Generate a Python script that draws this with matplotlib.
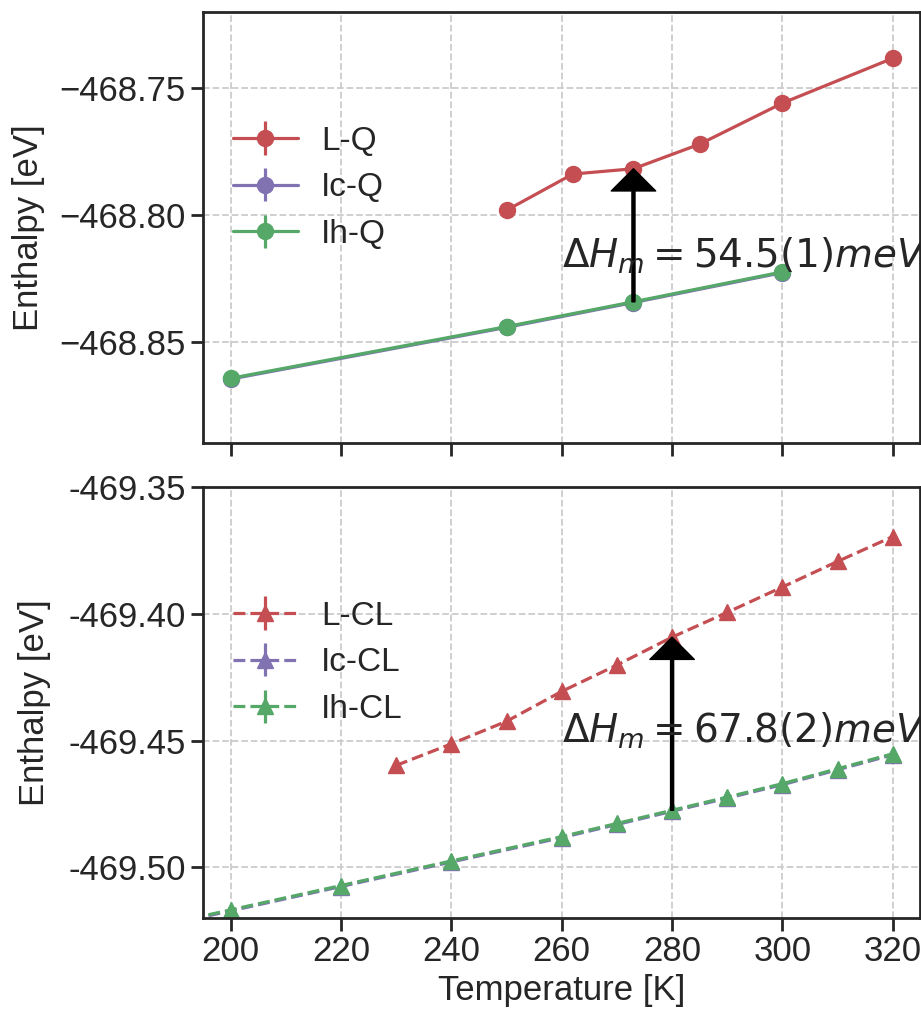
import numpy as np
import matplotlib.pyplot as plt
import seaborn as sns
from matplotlib.ticker import FormatStrFormatter, ScalarFormatter

sns.set_style('ticks', {'axes.grid': True, 'grid.linestyle': '--'})
plt.rcParams['font.family'] = ['Liberation Sans', 'DejaVu Sans']
plt.rcParams['mathtext.fontset'] = 'dejavusans'

RED, PURPLE, GREEN = '#C44E52', '#8172B2', '#55A868'

# --- Quantum (Q) ---
T_L_Q = [250, 262, 273, 285, 300, 320]
H_L_Q = [-468.7982, -468.7839, -468.7818, -468.7721, -468.7559, -468.7382]
T_I_Q = [200, 250, 273, 300]
H_Ic_Q = [-468.8648, -468.8444, -468.8346, -468.8228]
H_Ih_Q = [-468.8645, -468.8441, -468.8343, -468.8225]
err_Q = 0.0002

# --- Classical (CL) ---
T_L_CL = [230, 240, 250, 260, 270, 280, 290, 300, 310, 320]
H_L_CL = [-469.4598, -469.4513, -469.4424, -469.4306, -469.4202,
          -469.4092, -469.3994, -469.3894, -469.3793, -469.3695]
T_I_CL = [190, 200, 220, 240, 260, 270, 280, 290, 300, 310, 320]
H_Ih_CL = [-469.5216, -469.5168, -469.5072, -469.4975, -469.4879, -469.4827,
           -469.4775, -469.4723, -469.4670, -469.4611, -469.4552]
H_Ic_CL = [-469.5220, -469.5172, -469.5076, -469.4979, -469.4883, -469.4831,
           -469.4779, -469.4727, -469.4674, -469.4615, -469.4556]
err_CL = 0.0002

dH_Q = '54.5(1)'
dH_CL = '67.8(2)'
T_arrow_Q = 273
T_arrow_CL = 280

fig = plt.figure(figsize=(9.21, 10.09), dpi=100)
ax1 = fig.add_axes([0.2204, 0.561, 0.779, 0.427])
ax2 = fig.add_axes([0.2204, 0.0902, 0.779, 0.427])

lw, ms = 2.3, 11.5
ax1.errorbar(T_L_Q, H_L_Q, yerr=err_Q, color=RED, marker='o', ms=ms, lw=lw, label='L-Q')
ax1.errorbar(T_I_Q, H_Ic_Q, yerr=err_Q, color=PURPLE, marker='o', ms=ms, lw=lw, label='Ic-Q')
ax1.errorbar(T_I_Q, H_Ih_Q, yerr=err_Q, color=GREEN, marker='o', ms=ms, lw=lw, label='Ih-Q')

ax2.errorbar(T_L_CL, H_L_CL, yerr=err_CL, color=RED, marker='^', ms=ms, lw=lw, ls='--', label='L-CL')
ax2.errorbar(T_I_CL, H_Ic_CL, yerr=err_CL, color=PURPLE, marker='^', ms=ms, lw=lw, ls='--', label='Ic-CL')
ax2.errorbar(T_I_CL, H_Ih_CL, yerr=err_CL, color=GREEN, marker='^', ms=ms, lw=lw, ls='--', label='Ih-CL')

# стрелки с энтальпией плавления
arrow = dict(facecolor='black', edgecolor='black', width=2.2, headwidth=32, headlength=16, shrink=0)
i = T_L_Q.index(T_arrow_Q); j = T_I_Q.index(T_arrow_Q)
ax1.annotate('', xy=(T_arrow_Q, H_L_Q[i]), xytext=(T_arrow_Q, H_Ih_Q[j]), arrowprops=arrow)
ax1.text(260, -468.8208, r'$\Delta H_m = %s meV$' % dH_Q, fontsize=28, color='#262626')
i = T_L_CL.index(T_arrow_CL); j = T_I_CL.index(T_arrow_CL)
ax2.annotate('', xy=(T_arrow_CL, H_L_CL[i]), xytext=(T_arrow_CL, H_Ih_CL[j]), arrowprops=arrow)
ax2.text(260, -469.4507, r'$\Delta H_m = %s meV$' % dH_CL, fontsize=28, color='#262626')

for ax in (ax1, ax2):
    ax.set_xlim(195, 325)
    ax.set_xticks(range(200, 321, 20))
    ax.grid(True, ls='--', color='#cccccc', lw=1.3)
    for s in ax.spines.values():
        s.set_linewidth(2)
        s.set_color('#262626')
    ax.tick_params(axis='both', length=9, width=2, color='#262626', labelsize=25, labelcolor='#262626')
    ax.legend(loc='upper left', bbox_to_anchor=(0.0, 0.806), fontsize=24, frameon=False,
              handlelength=1.95, handletextpad=0.7, labelspacing=0.47)

ax1.set_ylabel('Enthalpy [eV]', fontsize=25, color='#262626', labelpad=10)
ax1.set_ylim(-468.890, -468.720)
ax1.set_yticks([-468.75, -468.80, -468.85])
ax1.yaxis.set_major_formatter(ScalarFormatter(useOffset=False))
ax1.tick_params(axis='x', labelbottom=False)

ax2.set_ylabel('Enthalpy [eV]', fontsize=25, color='#262626', labelpad=12.5)
ax2.set_ylim(-469.520, -469.350)
ax2.set_yticks([-469.35, -469.40, -469.45, -469.50])
ax2.yaxis.set_major_formatter(FormatStrFormatter('%.2f'))
ax2.set_xlabel('Temperature [K]', fontsize=25, color='#262626')

fig.savefig('out.png', dpi=100)
